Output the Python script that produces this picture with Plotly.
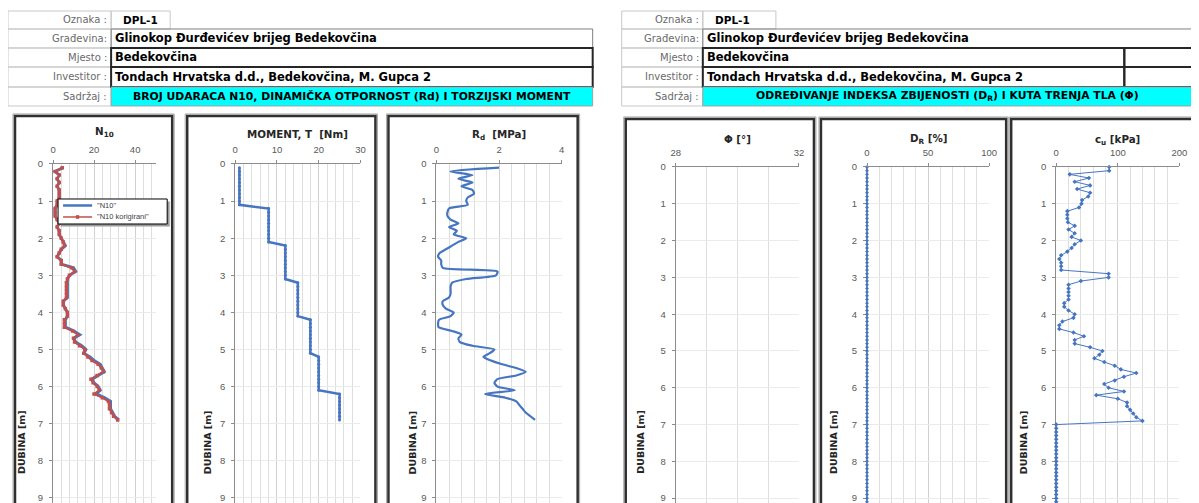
import plotly.graph_objects as go

# ---------------- data ----------------
depth = [round(0.1 * i, 1) for i in range(1, 70)]  # 0.1 .. 6.9 m

n10 = [5, 1, 3, 2, 3, 2, 3, 3, 3, 2,
       2, 1, 1, 1, 2, 3, 2, 3, 3, 4,
       5, 6, 4, 3, 2, 4, 4, 10, 11, 8,
       7, 7, 7, 7, 7, 7, 5, 5, 6, 7,
       7, 6, 6, 6, 10, 13, 10, 11, 14, 16,
       15, 18, 20, 23, 24, 25, 22, 19, 20, 22,
       23, 21, 25, 28, 28, 28, 29, 30, 32]

n10_korig = [4.5, 1, 3, 2, 3, 2, 3, 3, 3, 2,
             2, 1, 1, 1, 2, 3, 2, 3, 3, 4,
             5, 5.5, 4, 3, 2, 4, 4, 9, 10.5, 8,
             7, 6.5, 6.5, 6.5, 6.5, 6.5, 5, 5, 6, 7,
             7, 5.5, 5.5, 5.5, 9.5, 12, 10, 10.5, 13, 15.5,
             15, 17, 19, 22, 23.5, 24.5, 21.5, 18.5, 19.5, 21.5,
             22.5, 20, 24, 27, 27.5, 27.5, 28.5, 29.5, 31.5]

moment = [1, 1, 1, 1, 1, 1, 1, 1, 1, 1,
          1, 8, 8, 8, 8, 8, 8, 8, 8, 8,
          8, 12, 12, 12, 12, 12, 12, 12, 12, 12,
          12, 15, 15, 15, 15, 15, 15, 15, 15, 15,
          15, 18, 18, 18, 18, 18, 18, 18, 18, 18,
          18, 20, 20, 20, 20, 20, 20, 20, 20, 20,
          20, 25, 25, 25, 25, 25, 25, 25, 25]

rd = [2.0, 0.45, 1.15, 0.7, 1.15, 0.8, 1.15, 1.2, 1.0, 0.95,
      1.0, 0.4, 0.35, 0.35, 0.45, 0.7, 0.4, 0.65, 0.55, 0.95,
      0.7, 0.5, 0.3, 0.1, 0.05, 0.15, 0.15, 0.2, 1.95, 1.9,
      0.95, 0.5, 0.45, 0.45, 0.45, 0.4, 0.2, 0.2, 0.3, 0.55,
      0.45, 0.08, 0.05, 0.07, 0.5, 0.8, 0.7, 0.75, 1.15, 1.85,
      1.7, 1.5, 1.75, 2.1, 2.55, 2.85, 2.55, 1.95, 1.85, 1.95,
      2.5, 1.55, 2.2, 2.55, 2.65, 2.75, 2.85, 3.0, 3.15]

depth_full = [round(0.1 * i, 1) for i in range(0, 96)]  # 0.0 .. 9.5 m

cu = [86, 86, 22, 53, 30, 55, 34, 55, 52, 42, 41,
      37, 18, 18, 18, 19, 30, 20, 30, 25, 40,
      30, 25, 18, 8, 5, 8, 8, 8, 85, 85,
      40, 20, 20, 20, 20, 20, 13, 13, 20, 30,
      28, 10, 5, 5, 28, 45, 30, 30, 55, 75,
      70, 62, 78, 95, 105, 130, 110, 95, 78, 85,
      110, 65, 100, 115, 115, 120, 125, 130, 140,
      0, 0, 0, 0, 0, 0, 0, 0, 0, 0,
      0, 0, 0, 0, 0, 0, 0, 0, 0, 0,
      0, 0, 0, 0, 0, 0]

dr = [0] * len(depth_full)

panel_titles = ["<b>N<sub>10</sub></b>", "<b>MOMENT, T  [Nm]</b>", "<b>R<sub>d</sub>  [MPa]</b>",
                "<b>Φ [°]</b>", "<b>D<sub>R</sub> [%]</b>", "<b>c<sub>u</sub> [kPa]</b>"]
x_ranges = [(0, 50), (0, 30), (0, 4), (28, 32), (0, 100), (0, 200)]
x_major = [20, 10, 2, 4, 50, 100]
x_minor = [4, 2, 0.4, 1, 10, 20]
legend_names = ['"N10"', '"N10 korigirani"']

# ---------------- geometry (target screen pixel coords -> figure paper coords) ----------------
OFF, SC = 13.0, 0.988
W, H = 1200, 497
FONT = "Liberation Sans"
WIDE = "DejaVu Sans"
BLUE = "#4676c0"
RED = "#c0504d"


def fx(x):
    return ((x - OFF) / SC) / W


def fy(y):
    return 1 - ((y - OFF) / SC) / H


SCREEN_BOTTOM = SC * H + OFF

panels = [
    dict(x0=53, x1=155.5, top=163, ppm=37.1, box=(15, 115, 172), ty=131, dx=22),
    dict(x0=235, x1=360, top=163, ppm=37.1, box=(187, 115, 375), ty=133, dx=208),
    dict(x0=436, x1=561, top=163, ppm=37.1, box=(388, 115, 577), ty=134, dx=412),
    dict(x0=675, x1=798, top=166, ppm=36.8, box=(625, 118, 813), ty=138, dx=640),
    dict(x0=866, x1=988, top=166, ppm=36.8, box=(820, 118, 1005), ty=138, dx=833),
    dict(x0=1055, x1=1178, top=166, ppm=36.8, box=(1010, 118, 1193), ty=139, dx=1023),
]

fig = go.Figure()

# ---------------- traces ----------------
fig.add_trace(go.Scatter(x=n10, y=depth, xaxis="x", yaxis="y", mode="lines",
                         line=dict(color=BLUE, width=3), name=legend_names[0]))
fig.add_trace(go.Scatter(x=n10_korig, y=depth, xaxis="x", yaxis="y", mode="lines+markers",
                         line=dict(color=RED, width=2), marker=dict(symbol="square", size=3.5, color=RED),
                         name=legend_names[1]))
fig.add_trace(go.Scatter(x=moment, y=depth, xaxis="x2", yaxis="y2", mode="lines+markers",
                         line=dict(color=BLUE, width=2.5), marker=dict(size=3, color=BLUE)))
fig.add_trace(go.Scatter(x=rd, y=depth, xaxis="x3", yaxis="y3", mode="lines",
                         line=dict(color=BLUE, width=2.2, shape="spline", smoothing=0.6)))
fig.add_trace(go.Scatter(x=[], y=[], xaxis="x4", yaxis="y4", mode="lines"))
fig.add_trace(go.Scatter(x=dr, y=depth_full, xaxis="x5", yaxis="y5", mode="lines+markers",
                         line=dict(color=BLUE, width=1.5), marker=dict(symbol="diamond", size=3, color=BLUE),
                         cliponaxis=False))
fig.add_trace(go.Scatter(x=cu, y=depth_full, xaxis="x6", yaxis="y6", mode="lines+markers",
                         line=dict(color=BLUE, width=1), marker=dict(symbol="diamond", size=3.5, color=BLUE),
                         cliponaxis=False))

# ---------------- axes ----------------
layout = {}
annotations = []
shapes = []


def rect(x0, y0, x1, y1, color, width, fill=None, layer="below"):
    d = dict(type="rect", xref="paper", yref="paper", x0=fx(x0), x1=fx(x1), y0=fy(y0), y1=fy(y1),
             line=dict(color=color, width=width), layer=layer)
    if fill:
        d["fillcolor"] = fill
    return d


for i, p in enumerate(panels):
    sfx = "" if i == 0 else str(i + 1)
    r0, r1 = x_ranges[i]
    layout["xaxis" + sfx] = dict(
        domain=[fx(p["x0"]), fx(p["x1"])], range=[r0, r1], side="top", anchor="y" + sfx,
        tickmode="linear", tick0=r0, dtick=x_major[i],
        showgrid=True, gridcolor="#d0d0d0", gridwidth=1,
        minor=dict(dtick=x_minor[i], tick0=r0, showgrid=True, gridcolor="#dedede", gridwidth=1),
        showline=True, linecolor="#8c8c8c", linewidth=1,
        ticks="outside", ticklen=3, tickcolor="#8c8c8c",
        tickfont=dict(family=FONT, size=9.5, color="#595959"), ticklabelstandoff=3,
        zeroline=False, fixedrange=True, ticklabeloverflow="allow",
    )
    bottom = (SCREEN_BOTTOM - p["top"]) / p["ppm"]
    layout["yaxis" + sfx] = dict(
        domain=[0, fy(p["top"])], range=[bottom, 0], anchor="x" + sfx,
        tickmode="linear", tick0=0, dtick=1,
        showgrid=True, gridcolor="#ebebeb", gridwidth=1,
        showline=True, linecolor="#8c8c8c", linewidth=1,
        ticks="outside", ticklen=3, tickcolor="#8c8c8c",
        tickfont=dict(family=FONT, size=9.5, color="#595959"), ticklabelstandoff=4,
        zeroline=False, fixedrange=True, layer="below traces", ticklabeloverflow="allow",
    )
    annotations.append(dict(x=fx((p["x0"] + p["x1"]) / 2), y=fy(p["ty"]), xref="paper", yref="paper",
                            text=panel_titles[i], showarrow=False,
                            font=dict(family=WIDE, size=10.3, color="#262626"),
                            xanchor="center", yanchor="middle"))
    annotations.append(dict(x=fx(p["dx"]), y=fy(441), xref="paper", yref="paper",
                            text="<b>DUBINA [m]</b>", textangle=-90, showarrow=False,
                            font=dict(family=WIDE, size=9.5, color="#262626"),
                            xanchor="center", yanchor="middle"))
    bx0, by0, bx1 = p["box"]
    shapes.append(dict(type="rect", xref="paper", yref="paper",
                       x0=fx(bx0 - 2), x1=fx(bx1 + 2), y0=fy(by0 - 2), y1=-0.1,
                       line=dict(color="#a6a6a6", width=1), layer="below"))
    shapes.append(dict(type="rect", xref="paper", yref="paper",
                       x0=fx(bx0), x1=fx(bx1), y0=fy(by0), y1=-0.1,
                       line=dict(color="#303030", width=2.5), layer="below"))

# ---------------- manual legend in first panel ----------------
shapes.append(rect(60.5, 200.5, 169.5, 225.5, "#9a9a9a", 0, fill="#9a9a9a", layer="above"))
shapes.append(rect(58, 198, 167, 223, "#000000", 1, fill="#ffffff", layer="above"))
shapes.append(dict(type="line", xref="paper", yref="paper", x0=fx(63), x1=fx(92), y0=fy(204.5), y1=fy(204.5),
                   line=dict(color=BLUE, width=2.5), layer="above"))
shapes.append(dict(type="line", xref="paper", yref="paper", x0=fx(63), x1=fx(92), y0=fy(216), y1=fy(216),
                   line=dict(color=RED, width=1.5), layer="above"))
shapes.append(rect(75.8, 214.2, 79.2, 217.8, RED, 0, fill=RED, layer="above"))
for k, yy in enumerate((204.5, 216)):
    annotations.append(dict(x=fx(95), y=fy(yy), xref="paper", yref="paper", text=legend_names[k],
                            showarrow=False, xanchor="left", yanchor="middle",
                            font=dict(family=FONT, size=7.5, color="#404040")))

# ---------------- header tables ----------------
rows = [10, 28, 47, 66, 86, 105]
labels = ["Oznaka :", "Građevina:", "Mjesto :", "Investitor :", "Sadržaj :"]
values = ["DPL-1", "Glinokop Đurđevićev brijeg Bedekovčina", "Bedekovčina",
          "Tondach Hrvatska d.d., Bedekovčina, M. Gupca 2"]
sadrzaj = ["BROJ UDARACA N10, DINAMIČKA OTPORNOST (Rd) I TORZIJSKI MOMENT",
           "ODREĐIVANJE INDEKSA ZBIJENOSTI (D<sub>R</sub>) I KUTA TRENJA TLA (Φ)"]

tables = [dict(x0=8, xl=111, xd=170, x1=592, xs=None),
          dict(x0=621, xl=702, xd=775, x1=1191, xs=1123)]

for t_i, t in enumerate(tables):
    for r in range(5):
        ya, yb = rows[r], rows[r + 1]
        shapes.append(rect(t["x0"], ya, t["xl"], yb, "#c8c8c8", 1))
        annotations.append(dict(x=fx(t["xl"] - 2), y=fy((ya + yb) / 2), xref="paper", yref="paper",
                                text=labels[r], showarrow=False, xanchor="right", yanchor="middle",
                                font=dict(family=WIDE, size=10, color="#6a6a6a")))
    shapes.append(rect(t["xl"], rows[0], t["xd"], rows[1], "#c8c8c8", 1))
    annotations.append(dict(x=fx(t["xl"] + 10), y=fy((rows[0] + rows[1]) / 2), xref="paper", yref="paper",
                            text="<b>" + values[0] + "</b>", showarrow=False, xanchor="left", yanchor="middle",
                            font=dict(family=WIDE, size=10.5, color="#000")))
    shapes.append(rect(t["xl"], rows[1], t["x1"], rows[2], "#7f7f7f", 1))
    for r in (2, 3):
        if t["xs"]:
            shapes.append(rect(t["xl"], rows[r], t["xs"], rows[r + 1], "#262626", 2))
            shapes.append(rect(t["xs"], rows[r], t["x1"], rows[r + 1], "#262626", 2))
        else:
            shapes.append(rect(t["xl"], rows[r], t["x1"], rows[r + 1], "#262626", 2))
    for r in (1, 2, 3):
        annotations.append(dict(x=fx(t["xl"] + 2), y=fy((rows[r] + rows[r + 1]) / 2), xref="paper",
                                yref="paper", text="<b>" + values[r] + "</b>", showarrow=False,
                                xanchor="left", yanchor="middle",
                                font=dict(family=WIDE, size=11.5, color="#000")))
    shapes.append(rect(t["xl"], rows[4], t["x1"], rows[5], "#a0a0a0", 1, fill="#00ffff"))
    annotations.append(dict(x=fx((t["xl"] + t["x1"]) / 2), y=fy((rows[4] + rows[5]) / 2), xref="paper",
                            yref="paper", text="<b>" + sadrzaj[t_i] + "</b>", showarrow=False,
                            xanchor="center", yanchor="middle",
                            font=dict(family=WIDE, size=10.8, color="#000")))

layout.update(
    width=W, height=H, margin=dict(l=0, r=0, t=0, b=0),
    paper_bgcolor="white", plot_bgcolor="white",
    showlegend=False,
    annotations=annotations, shapes=shapes,
    font=dict(family=FONT),
)
fig.update_layout(**layout)
fig.write_html("out.html")
